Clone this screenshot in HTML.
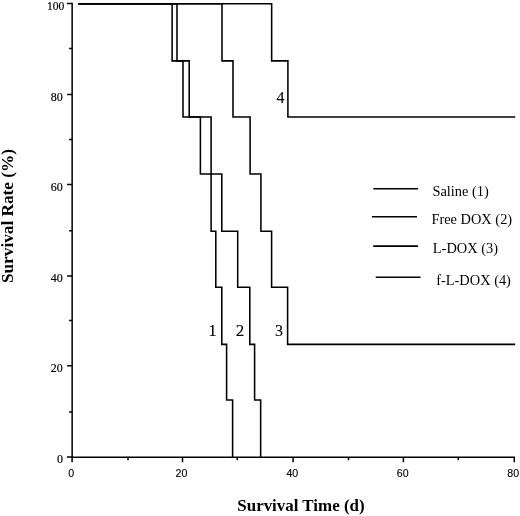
<!DOCTYPE html>
<html>
<head>
<meta charset="utf-8">
<style>
html,body{margin:0;padding:0;background:#fff;}
body{width:520px;height:516px;overflow:hidden;}
svg{display:block;filter:grayscale(1);}
.s{font-family:"Liberation Serif",serif;fill:#000;}
.a{font-family:"Liberation Sans",sans-serif;fill:#000;}
</style>
</head>
<body>
<svg width="520" height="516" viewBox="0 0 520 516">
<g fill="none" stroke="#000" stroke-width="1.5" stroke-linecap="butt" stroke-linejoin="miter">
<!-- axes -->
<path d="M72.15 2.8 V457.2 H514.3 V462.3"/>
<!-- y ticks major -->
<path d="M66.9 3.6 H72.1 M67.1 94.5 H72.1 M67.1 184.6 H72.1 M67.1 275.9 H72.1 M67.1 365.8 H72.1 M66.9 457 H72.1"/>
<!-- y ticks minor -->
<path d="M69.1 48.5 H72.1 M69.1 139.4 H72.1 M69.1 230.8 H72.1 M69.1 320.5 H72.1 M69.1 411.9 H72.1"/>
<!-- x ticks major -->
<path d="M72.1 457 V462.3 M182.5 457 V462.3 M293.1 457 V462.3 M403.4 457 V462.3"/>
<!-- x ticks minor -->
<path d="M128 457 V460.3 M237.2 457 V460.3 M348.5 457 V460.3 M458.3 457 V460.3"/>
</g>
<g fill="none" stroke="#000" stroke-width="1.55" stroke-linecap="butt" stroke-linejoin="miter">
<!-- curve 1 saline -->
<path d="M78.1 3.7 H172.1 V60.85 H183 V117.0 H200.4 V174.0 H211.1 V231.15 H215.8 V287.25 H221.8 V344.35 H226.6 V400.0 H232.6 V457.2"/>
<!-- curve 2 free dox -->
<path d="M78.1 3.7 H177 V60.85 H189.2 V117.0 H211.1 V174.0 H221.8 V231.15 H237.7 V287.25 H249.8 V344.35 H254.6 V400.0 H260.65 V457.2"/>
<!-- curve 3 L-DOX -->
<path d="M78.1 3.7 H222 V60.85 H233 V117.0 H250.1 V174.0 H260.9 V231.15 H271.6 V287.25 H287.6 V344.35 H515.2"/>
<!-- curve 4 f-L-DOX -->
<path d="M78.1 3.7 H271.65 V60.85 H287.9 V117.0 H515.2"/>
<!-- legend lines -->
<path d="M373.3 188.8 H418.1 M371.9 216.8 H417 M373.2 246.1 H418 M375.7 277.25 H420.5"/>
</g>
<!-- y labels -->
<g class="s" font-size="12.8" text-anchor="end" stroke="#000" stroke-width="0.2">
<text x="64.3" y="9.7" textLength="17.4" lengthAdjust="spacingAndGlyphs">100</text>
<text x="62.8" y="101" textLength="12" lengthAdjust="spacingAndGlyphs">80</text>
<text x="62.8" y="190.8" textLength="12" lengthAdjust="spacingAndGlyphs">60</text>
<text x="62.8" y="282" textLength="12" lengthAdjust="spacingAndGlyphs">40</text>
<text x="62.8" y="371.7" textLength="12" lengthAdjust="spacingAndGlyphs">20</text>
<text x="63.1" y="462.7" textLength="6" lengthAdjust="spacingAndGlyphs">0</text>
</g>
<!-- x labels -->
<g class="a" font-size="10.6" text-anchor="middle" stroke="#000" stroke-width="0.12">
<text x="71.3" y="476.75">0</text>
<text x="181.45" y="476.75">20</text>
<text x="292.35" y="476.75">40</text>
<text x="402.65" y="476.75">60</text>
<text x="513.15" y="476.75">80</text>
</g>
<!-- curve labels -->
<g class="s" font-size="17" stroke="#000" stroke-width="0.12">
<text x="208.3" y="335.8">1</text>
<text x="235.7" y="335.8">2</text>
<text x="275.1" y="335.8" textLength="8" lengthAdjust="spacingAndGlyphs">3</text>
<text x="276.4" y="102.9" font-size="16">4</text>
</g>
<!-- legend text -->
<g class="s" font-size="14.4">
<text x="432.4" y="196.2">Saline (1)</text>
<text x="431.4" y="224.1">Free DOX (2)</text>
<text x="432.8" y="253.1">L-DOX (3)</text>
<text x="436.2" y="285.3">f-L-DOX (4)</text>
</g>
<!-- axis titles -->
<text class="s" font-size="17.3" font-weight="bold" x="237.3" y="510.8" textLength="127.3" lengthAdjust="spacingAndGlyphs">Survival Time (d)</text>
<text class="s" font-size="17.3" font-weight="bold" transform="translate(13.4,283.1) rotate(-90)" x="0" y="0" textLength="134.2" lengthAdjust="spacingAndGlyphs">Survival Rate (%)</text>
</svg>
</body>
</html>
